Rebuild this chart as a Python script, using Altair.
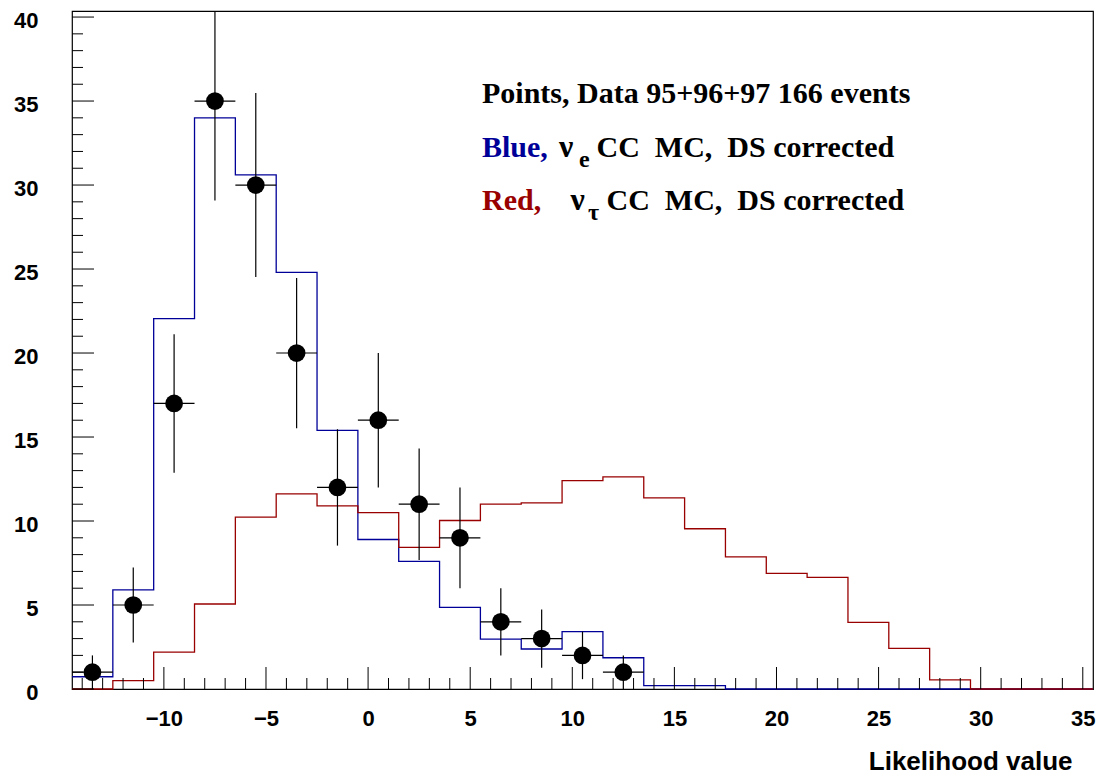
import altair as alt
import pandas as pd

# ---- data ----
bin_low = -14.5
bin_width = 2.0
n_bins = 25
blue_mc = [0.73, 5.9, 22.05, 34.0, 30.6, 24.8, 15.4, 8.9, 7.6, 4.86, 2.97, 2.38, 3.41,
           1.86, 0.2, 0.2, 0, 0, 0, 0, 0, 0, 0, 0, 0]
red_mc = [0, 0.5, 2.2, 5.06, 10.23, 11.62, 10.9, 10.5, 8.43, 10.03, 11.0, 11.08, 12.41,
          12.63, 11.38, 9.54, 7.87, 6.88, 6.64, 3.97, 2.42, 0.54, 0, 0, 0]
data_centers = [-13.5, -11.5, -9.5, -7.5, -5.5, -3.5, -1.5, 0.5, 2.5, 4.5, 6.5, 8.5, 10.5, 12.5]
data_counts = [1, 5, 17, 35, 30, 20, 12, 16, 11, 9, 4, 3, 2, 1]
x_tick_labels = [-10, -5, 0, 5, 10, 15, 20, 25, 30, 35]
y_tick_labels = [0, 5, 10, 15, 20, 25, 30, 35, 40]

X_DOMAIN = [-14.5, 35.5]
Y_DOMAIN = [0, 40.36]
W, H = 1021, 678
BLUE = "#000099"
RED = "#990000"
SANS = "Liberation Sans"
SERIF = "Liberation Serif"

edges = [bin_low + i * bin_width for i in range(n_bins + 1)]
hist = pd.DataFrame({
    "x": edges * 2,
    "y": blue_mc + [blue_mc[-1]] + red_mc + [red_mc[-1]],
    "s": ["blue"] * (n_bins + 1) + ["red"] * (n_bins + 1),
})
pts = pd.DataFrame({"x": data_centers, "n": data_counts})
pts["lo"] = pts["n"] - pts["n"] ** 0.5
pts["hi"] = pts["n"] + pts["n"] ** 0.5
pts["xl"] = pts["x"] - bin_width / 2
pts["xr"] = pts["x"] + bin_width / 2

xs = alt.Scale(domain=X_DOMAIN, nice=False, zero=False)
ys = alt.Scale(domain=Y_DOMAIN, nice=False, zero=False)

lab_font = dict(labelFont=SANS, labelFontSize=22, labelFontWeight="bold", labelColor="black")

x_axis = alt.Axis(values=x_tick_labels, ticks=False, tickSize=0, domain=False, grid=False,
                  labelBaseline="alphabetic", labelPadding=36, labelAlign="center",
                  title="Likelihood value", titleFont=SANS, titleFontSize=26,
                  titleFontWeight="bold", titleColor="black", titleAlign="right",
                  titleBaseline="alphabetic", titleX=1000, titleY=80, labelFlush=False,
                  **lab_font)
y_axis = alt.Axis(values=y_tick_labels, ticks=False, tickSize=0, domain=False, grid=False,
                  labelPadding=34, labelBaseline="middle", labelOffset=3, title=None,
                  labelFlush=False, **lab_font)

base = alt.Chart(hist)

lines = base.mark_line(interpolate="step-after", strokeWidth=1.3).encode(
    x=alt.X("x:Q", scale=xs, axis=x_axis),
    y=alt.Y("y:Q", scale=ys, axis=y_axis),
    color=alt.Color("s:N", scale=alt.Scale(domain=["blue", "red"], range=[BLUE, RED]), legend=None),
)

pc = alt.Chart(pts)
vbar = pc.mark_rule(color="black", strokeWidth=1.2, clip=True).encode(
    x=alt.X("x:Q", scale=xs), y=alt.Y("lo:Q", scale=ys), y2="hi:Q")
hbar = pc.mark_rule(color="black", strokeWidth=1.2).encode(
    x=alt.X("xl:Q", scale=xs), x2="xr:Q", y=alt.Y("n:Q", scale=ys))
dots = pc.mark_circle(color="black", opacity=1, size=314).encode(
    x=alt.X("x:Q", scale=xs), y=alt.Y("n:Q", scale=ys))

# inward ticks
xmaj = pd.DataFrame({"t": x_tick_labels})
xmin = pd.DataFrame({"t": [v for v in range(-14, 36) if v % 5 != 0]})
ymaj = pd.DataFrame({"t": y_tick_labels})
ymin = pd.DataFrame({"t": [v for v in range(1, 41) if v % 5 != 0]})

def xticks(df, ln):
    return alt.Chart(df).mark_rule(color="black", strokeWidth=1).encode(
        x=alt.X("t:Q", scale=xs), y=alt.value(H), y2=alt.value(H - ln))

def yticks(df, ln):
    return alt.Chart(df).mark_rule(color="black", strokeWidth=1).encode(
        y=alt.Y("t:Q", scale=ys), x=alt.value(0), x2=alt.value(ln))

# annotation text
def txt(s, x, y, size=30, color="black", font=SERIF):
    return alt.Chart(pd.DataFrame({"s": [s]})).mark_text(
        align="left", baseline="alphabetic", font=font, fontSize=size,
        fontWeight="bold", color=color).encode(
        text="s:N", x=alt.value(x), y=alt.value(y))

NB = "\u00a0"
ann = [
    txt("Points, Data 95+96+97 166 events", 410, 92),
    txt("Blue,", 410, 145.5, color=BLUE),
    txt("\u03bd", 487, 145.5, size=32),
    txt("e", 507, 155.5, size=24),
    txt("CC" + NB + NB + "MC," + NB + NB + "DS corrected", 524.5, 145.5),
    txt("Red,", 410, 199, color=RED),
    txt("\u03bd", 498.5, 199, size=32),
    txt("\u03c4", 516, 209, size=24),
    txt("CC" + NB + NB + "MC," + NB + NB + "DS corrected", 534.5, 199),
]

chart = alt.layer(
    lines, vbar, hbar, dots,
    xticks(xmaj, 22), xticks(xmin, 11), yticks(ymaj, 22), yticks(ymin, 11),
    *ann
).properties(
    width=W, height=H,
    autosize=alt.AutoSizeParams(type="none"),
    padding={"left": 72, "top": 11, "right": 11, "bottom": 88},
    background="white",
).configure_view(stroke="black", strokeWidth=1.2)

chart.save("out.html", embed_options={"renderer": "svg", "actions": False})
